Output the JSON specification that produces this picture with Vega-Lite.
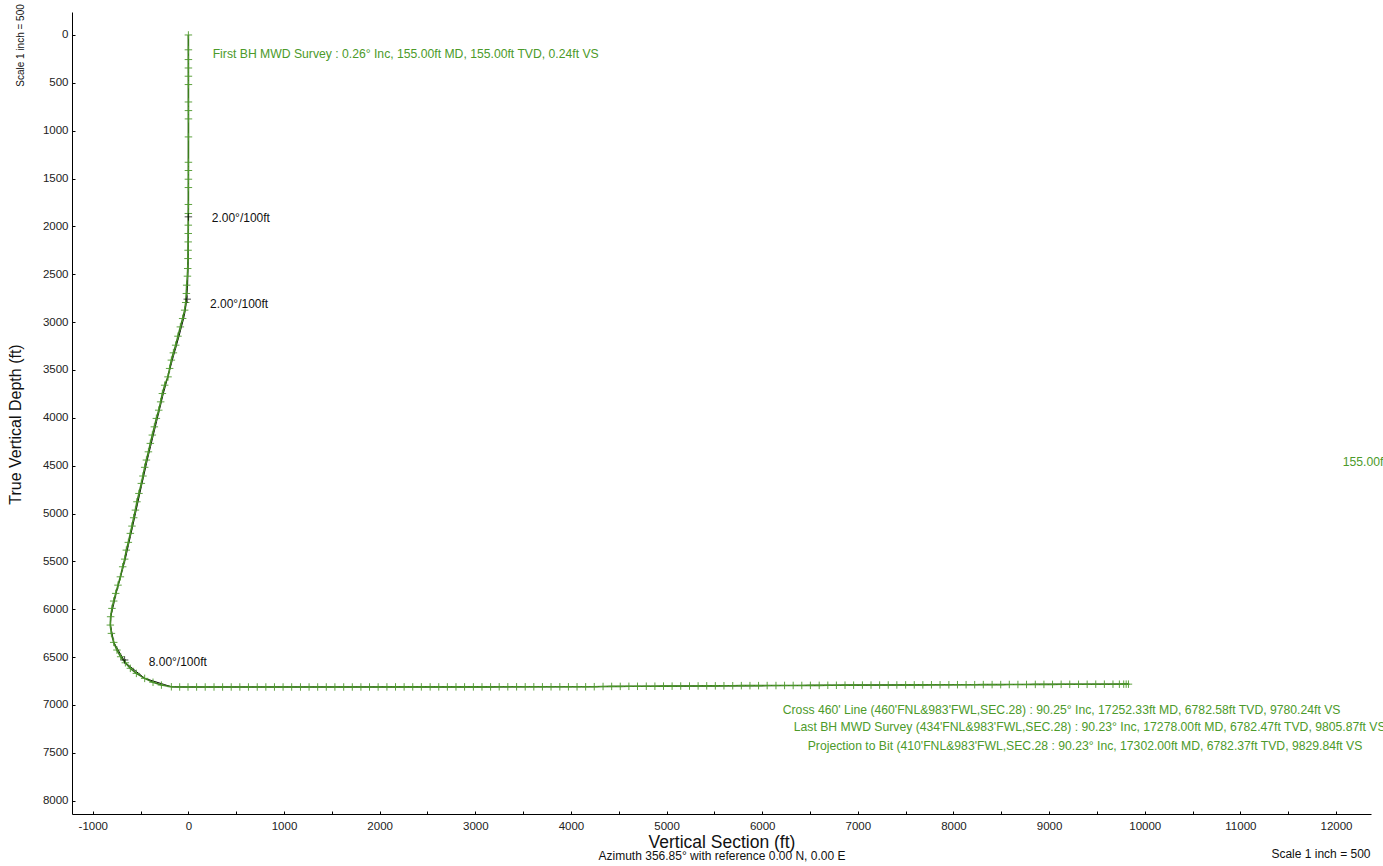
{
  "$schema": "https://vega.github.io/schema/vega-lite/v6.json",
  "width": 1299,
  "height": 802,
  "autosize": {"type": "none"},
  "padding": {"left": 72, "top": 12, "right": 12, "bottom": 52},
  "background": "white",
  "config": {
    "font": "Liberation Sans",
    "view": {"stroke": null},
    "axis": {
      "grid": false,
      "domainColor": "#000000",
      "tickColor": "#000000",
      "labelColor": "#222222",
      "titleColor": "#111111",
      "labelFont": "Liberation Sans",
      "titleFont": "Liberation Sans",
      "titleFontWeight": "normal"
    }
  },
  "datasets": {
    "survey": [
      {"vs":0,"tvd":0},{"vs":0.2,"tvd":155},{"vs":0.3,"tvd":257},{"vs":0.3,"tvd":345},{"vs":0.4,"tvd":431},{"vs":0.5,"tvd":518},{"vs":0.6,"tvd":700},{"vs":0.7,"tvd":790},{"vs":0.8,"tvd":877},{"vs":0.8,"tvd":1065},{"vs":0.6,"tvd":1330},{"vs":0.5,"tvd":1416},{"vs":0.4,"tvd":1507},{"vs":0.2,"tvd":1594},{"vs":0,"tvd":1771},{"vs":-0.5,"tvd":1865},{"vs":-1,"tvd":1987},{"vs":-1.5,"tvd":2074},{"vs":-2,"tvd":2162},{"vs":-3,"tvd":2249},{"vs":-4,"tvd":2336},{"vs":-7,"tvd":2440},{"vs":-10,"tvd":2520},{"vs":-18,"tvd":2614},{"vs":-21,"tvd":2701},{"vs":-28,"tvd":2795},{"vs":-39,"tvd":2875},{"vs":-60,"tvd":2962},{"vs":-84,"tvd":3050},{"vs":-109,"tvd":3147},{"vs":-133,"tvd":3241},{"vs":-157,"tvd":3321},{"vs":-178,"tvd":3397},{"vs":-196,"tvd":3484},{"vs":-213,"tvd":3572},{"vs":-248,"tvd":3659},{"vs":-272,"tvd":3746},{"vs":-290,"tvd":3833},{"vs":-310,"tvd":3920},{"vs":-335,"tvd":4006},{"vs":-356,"tvd":4094},{"vs":-377,"tvd":4180},{"vs":-398,"tvd":4267},{"vs":-418,"tvd":4355},{"vs":-439,"tvd":4441},{"vs":-457,"tvd":4517},{"vs":-475,"tvd":4608},{"vs":-492,"tvd":4685},{"vs":-517,"tvd":4790},{"vs":-538,"tvd":4877},{"vs":-554,"tvd":4964},{"vs":-572,"tvd":5044},{"vs":-590,"tvd":5131},{"vs":-607,"tvd":5207},{"vs":-628,"tvd":5301},{"vs":-649,"tvd":5382},{"vs":-666,"tvd":5476},{"vs":-687,"tvd":5556},{"vs":-711,"tvd":5661},{"vs":-736,"tvd":5748},{"vs":-760,"tvd":5834},{"vs":-781,"tvd":5914},{"vs":-799,"tvd":5991},{"vs":-813,"tvd":6078},{"vs":-816,"tvd":6165},{"vs":-805,"tvd":6252},{"vs":-781,"tvd":6346},{"vs":-747,"tvd":6426},{"vs":-708,"tvd":6496},{"vs":-659,"tvd":6559},{"vs":-607,"tvd":6617},{"vs":-544,"tvd":6670},{"vs":-457,"tvd":6722},{"vs":-370,"tvd":6763},{"vs":-282,"tvd":6792},{"vs":-178,"tvd":6810},{"vs":-91,"tvd":6812},
      {"vs":-4,"tvd":6812},{"vs":86,"tvd":6812},{"vs":176,"tvd":6812},{"vs":268,"tvd":6812},{"vs":358,"tvd":6812},{"vs":448,"tvd":6812},{"vs":538,"tvd":6812},{"vs":628,"tvd":6812},{"vs":720,"tvd":6812},{"vs":810,"tvd":6812},{"vs":900,"tvd":6812},{"vs":990,"tvd":6812},{"vs":1080,"tvd":6812},{"vs":1172,"tvd":6812},{"vs":1262,"tvd":6812},{"vs":1352,"tvd":6812},{"vs":1442,"tvd":6812},{"vs":1532,"tvd":6812},{"vs":1624,"tvd":6812},{"vs":1714,"tvd":6812},{"vs":1804,"tvd":6812},{"vs":1894,"tvd":6812},{"vs":1984,"tvd":6812},{"vs":2076,"tvd":6811},{"vs":2166,"tvd":6811},{"vs":2256,"tvd":6811},{"vs":2346,"tvd":6811},{"vs":2436,"tvd":6811},{"vs":2528,"tvd":6811},{"vs":2618,"tvd":6811},{"vs":2708,"tvd":6811},{"vs":2798,"tvd":6811},{"vs":2888,"tvd":6811},{"vs":2980,"tvd":6811},{"vs":3070,"tvd":6811},{"vs":3160,"tvd":6811},{"vs":3250,"tvd":6810},{"vs":3340,"tvd":6810},{"vs":3432,"tvd":6810},{"vs":3522,"tvd":6810},{"vs":3612,"tvd":6810},{"vs":3702,"tvd":6810},{"vs":3792,"tvd":6810},{"vs":3884,"tvd":6810},{"vs":3974,"tvd":6810},{"vs":4064,"tvd":6810},{"vs":4154,"tvd":6810},{"vs":4244,"tvd":6809},{"vs":4336,"tvd":6807},{"vs":4426,"tvd":6806},{"vs":4516,"tvd":6806},{"vs":4606,"tvd":6805},{"vs":4696,"tvd":6805},{"vs":4788,"tvd":6804},{"vs":4878,"tvd":6804},{"vs":4968,"tvd":6803},{"vs":5058,"tvd":6803},{"vs":5148,"tvd":6802},{"vs":5240,"tvd":6802},{"vs":5330,"tvd":6801},{"vs":5420,"tvd":6800},{"vs":5510,"tvd":6800},{"vs":5600,"tvd":6799},{"vs":5692,"tvd":6799},{"vs":5782,"tvd":6798},{"vs":5872,"tvd":6798},{"vs":5962,"tvd":6798},{"vs":6052,"tvd":6797},{"vs":6144,"tvd":6797},{"vs":6234,"tvd":6796},{"vs":6324,"tvd":6796},{"vs":6414,"tvd":6796},{"vs":6504,"tvd":6795},{"vs":6596,"tvd":6795},{"vs":6686,"tvd":6794},{"vs":6776,"tvd":6794},{"vs":6866,"tvd":6793},{"vs":6956,"tvd":6793},{"vs":7048,"tvd":6792},{"vs":7138,"tvd":6792},{"vs":7228,"tvd":6792},{"vs":7318,"tvd":6791},{"vs":7408,"tvd":6791},{"vs":7500,"tvd":6790},{"vs":7590,"tvd":6790},{"vs":7680,"tvd":6790},{"vs":7770,"tvd":6789},{"vs":7860,"tvd":6789},{"vs":7952,"tvd":6789},{"vs":8042,"tvd":6788},{"vs":8132,"tvd":6788},{"vs":8222,"tvd":6788},{"vs":8312,"tvd":6787},{"vs":8404,"tvd":6787},{"vs":8494,"tvd":6787},{"vs":8584,"tvd":6786},{"vs":8674,"tvd":6786},{"vs":8764,"tvd":6786},{"vs":8856,"tvd":6785},{"vs":8946,"tvd":6785},{"vs":9036,"tvd":6785},{"vs":9126,"tvd":6784},{"vs":9216,"tvd":6784},{"vs":9308,"tvd":6784},{"vs":9398,"tvd":6784},{"vs":9488,"tvd":6783},{"vs":9578,"tvd":6783},{"vs":9668,"tvd":6783},{"vs":9735,"tvd":6783},{"vs":9780.24,"tvd":6782.58},{"vs":9805.87,"tvd":6782.47},{"vs":9829.84,"tvd":6782.37}
    ],
    "plan": [
      {"vs":0,"tvd":0},{"vs":0,"tvd":1900},{"vs":-2,"tvd":2336},{"vs":-8,"tvd":2614},{"vs":-22,"tvd":2795},{"vs":-32,"tvd":2875},{"vs":-50,"tvd":2962},{"vs":-98,"tvd":3147},{"vs":-168,"tvd":3397},{"vs":-262,"tvd":3746},{"vs":-346,"tvd":4094},{"vs":-430,"tvd":4441},{"vs":-508,"tvd":4790},{"vs":-582,"tvd":5131},{"vs":-660,"tvd":5476},{"vs":-756,"tvd":5834},{"vs":-811,"tvd":6078},{"vs":-815,"tvd":6165},{"vs":-780,"tvd":6346},{"vs":-658,"tvd":6559},{"vs":-456,"tvd":6722},{"vs":-178,"tvd":6810},{"vs":0,"tvd":6812},{"vs":3130,"tvd":6811},{"vs":4300,"tvd":6808},{"vs":6000,"tvd":6798},{"vs":8000,"tvd":6788},{"vs":9830,"tvd":6782}
    ],
    "planpts": [
      {"vs":0,"tvd":1900},{"vs":-12,"tvd":2760},{"vs":-667,"tvd":6530}
    ],
    "notes": [
      {"vs":254,"tvd":202,"label":"First BH MWD Survey : 0.26° Inc, 155.00ft MD, 155.00ft TVD, 0.24ft VS"},
      {"vs":12070,"tvd":4461,"label":"155.00ft"},
      {"vs":6215,"tvd":7052,"label":"Cross 460' Line (460'FNL&983'FWL,SEC.28) : 90.25° Inc, 17252.33ft MD, 6782.58ft TVD, 9780.24ft VS"},
      {"vs":6330,"tvd":7232,"label":"Last BH MWD Survey (434'FNL&983'FWL,SEC.28) : 90.23° Inc, 17278.00ft MD, 6782.47ft TVD, 9805.87ft VS"},
      {"vs":6476,"tvd":7432,"label":"Projection to Bit (410'FNL&983'FWL,SEC.28 : 90.23° Inc, 17302.00ft MD, 6782.37ft TVD, 9829.84ft VS"}
    ],
    "rates": [
      {"vs":244,"tvd":1909,"label":"2.00°/100ft"},
      {"vs":226,"tvd":2810,"label":"2.00°/100ft"},
      {"vs":-415,"tvd":6547,"label":"8.00°/100ft"}
    ]
  },
  "layer": [
    {
      "data": {"name": "plan"},
      "mark": {"type": "line", "color": "#000000", "strokeWidth": 1},
      "encoding": {
        "x": {
          "field": "vs", "type": "quantitative",
          "scale": {"domain": [-1217, 12366], "nice": false, "zero": false},
          "axis": {
            "orient": "bottom",
            "values": [-1000,-500,0,500,1000,1500,2000,2500,3000,3500,4000,4500,5000,5500,6000,6500,7000,7500,8000,8500,9000,9500,10000,10500,11000,11500,12000],
            "labelExpr": "datum.value % 1000 === 0 ? '' + datum.value : ''",
            "tickSize": -3,
            "labelPadding": 9,
            "labelFontSize": 11.5,
            "title": "Vertical Section (ft)",
            "titleFontSize": 17.5,
            "titleBaseline": "alphabetic",
            "titleY": 33
          }
        },
        "y": {
          "field": "tvd", "type": "quantitative",
          "scale": {"domain": [-240, 8139], "nice": false, "zero": false, "reverse": true},
          "axis": {
            "orient": "left",
            "values": [0,500,1000,1500,2000,2500,3000,3500,4000,4500,5000,5500,6000,6500,7000,7500,8000],
            "labelExpr": "'' + datum.value",
            "tickSize": -3,
            "labelPadding": 7,
            "labelFontSize": 11.5,
            "title": "True Vertical Depth (ft)",
            "titleFontSize": 16,
            "titleAngle": 270,
            "titleAlign": "center",
            "titleBaseline": "middle",
            "titleX": -57,
            "titleY": 412
          }
        },
        "order": {"value": null}
      }
    },
    {
      "data": {"name": "survey"},
      "mark": {"type": "line", "color": "#3a7d1c", "strokeWidth": 1.6},
      "encoding": {
        "x": {"field": "vs", "type": "quantitative", "axis": null},
        "y": {"field": "tvd", "type": "quantitative", "axis": null},
        "order": {"value": null}
      }
    },
    {
      "data": {"name": "survey"},
      "mark": {"type": "point", "shape": "M-1,0L1,0M0,-1L0,1", "size": 56, "filled": false, "color": "#4f9a2e", "strokeWidth": 1, "opacity": 0.9},
      "encoding": {
        "x": {
          "field": "vs", "type": "quantitative",
          "axis": {
            "orient": "bottom", "domain": false, "ticks": false, "labels": false,
            "title": "Azimuth 356.85° with reference 0.00 N, 0.00 E",
            "titleFontSize": 12,
            "titleBaseline": "alphabetic",
            "titleY": 45
          }
        },
        "y": {"field": "tvd", "type": "quantitative", "axis": null}
      }
    },
    {
      "data": {"name": "planpts"},
      "mark": {"type": "point", "shape": "M-1,0L1,0M0,-1L0,1", "size": 56, "filled": false, "color": "#000000", "strokeWidth": 1},
      "encoding": {
        "x": {"field": "vs", "type": "quantitative", "axis": null},
        "y": {"field": "tvd", "type": "quantitative", "axis": null}
      }
    },
    {
      "data": {"name": "notes"},
      "mark": {"type": "text", "align": "left", "baseline": "middle", "fontSize": 12.2, "color": "#4c9a2a", "font": "Liberation Sans"},
      "encoding": {
        "x": {
          "field": "vs", "type": "quantitative",
          "axis": {
            "orient": "bottom", "domain": false, "ticks": false, "labels": false,
            "title": "Scale 1 inch = 500",
            "titleFontSize": 12,
            "titleAlign": "right",
            "titleBaseline": "alphabetic",
            "titleX": 1298,
            "titleY": 43
          }
        },
        "y": {
          "field": "tvd", "type": "quantitative",
          "axis": {
            "orient": "left", "domain": false, "ticks": false, "labels": false,
            "title": "Scale 1 inch = 500",
            "titleFontSize": 10,
            "titleAngle": 270,
            "titleAlign": "center",
            "titleBaseline": "middle",
            "titleX": -52,
            "titleY": 33
          }
        },
        "text": {"field": "label"}
      }
    },
    {
      "data": {"name": "rates"},
      "mark": {"type": "text", "align": "left", "baseline": "middle", "fontSize": 12, "color": "#111111", "font": "Liberation Sans"},
      "encoding": {
        "x": {"field": "vs", "type": "quantitative", "axis": null},
        "y": {"field": "tvd", "type": "quantitative", "axis": null},
        "text": {"field": "label"}
      }
    }
  ],
  "resolve": {"axis": {"x": "independent", "y": "independent"}}
}
